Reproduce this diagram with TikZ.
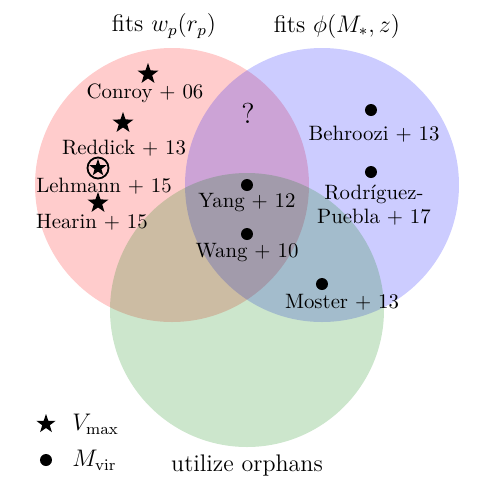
\documentclass[tikz,border=0pt]{standalone}
\usepackage{amsmath}
\usetikzlibrary{shapes.geometric}

\begin{document}
\begin{tikzpicture}[
  x=0.5pt, y=-0.5pt,
  venn/.style={fill opacity=0.2},
  vstar/.style={star, star points=5, star point ratio=2.5, fill=black, inner sep=0pt, minimum size=11pt},
  vdot/.style={circle, fill=black, inner sep=0pt, minimum size=6pt},
  lbl/.style={align=center, inner sep=0pt, font=\fontsize{10.4}{12}\selectfont},
  big/.style={font=\large, inner sep=0pt},
]
\useasboundingbox (0,0) rectangle (495,495);
% ---- the three sets ----
\fill[venn, red] (172,185) circle[radius=137];
\fill[venn, blue] (322,185) circle[radius=137];
\fill[venn, green!50!black] (247,310) circle[radius=137];
% ---- set titles ----
\node[big] (twopt) at (164,26) {fits $w_p(r_p)$};
\node[big] (smf) at (337,26) {fits $\phi(M_*, z)$};
\node[big] (orph) at (247,465) {utilize orphans};
% ---- clustering only (Vmax) ----
\node[vstar] (conroy) at (148,74) {};
\node[lbl] (conroyl) at (145,93) {Conroy + 06};
\node[vstar] (reddick) at (123,123) {};
\node[lbl] (reddickl) at (124,148) {Reddick + 13};
\node[circle, draw, line width=0.9pt, inner sep=0pt, minimum size=10.5pt] (lehmann) at (98,168) {};
\node[vstar, minimum size=9pt] (lehmannst) at (lehmann) {};
\node[lbl] (lehmannl) at (104,186) {Lehmann + 15};
\node[vstar] (hearin) at (98,203) {};
\node[lbl] (hearinl) at (92,222) {Hearin + 15};
% ---- nobody here yet ----
\node[font=\Large, inner sep=0pt] (qm) at (248,113) {?};
% ---- stellar mass function only (Mvir) ----
\node[vdot] (behroozi) at (371,110) {};
\node[lbl] (behroozil) at (374,134) {Behroozi + 13};
\node[vdot] (rodriguez) at (371,172) {};
\node[lbl] (rodriguezl) at (374,205) {Rodr\'{\i}guez-\\Puebla + 17};
% ---- orphans ----
\node[vdot] (yang) at (247,185) {};
\node[lbl] (yangl) at (247,203) {Yang + 12};
\node[vdot] (wang) at (247,234) {};
\node[lbl] (wangl) at (247,253) {Wang + 10};
\node[vdot] (moster) at (322,284) {};
\node[lbl] (mosterl) at (342,302) {Moster + 13};
% ---- legend ----
\node[vstar, minimum size=10pt] (legstar) at (46,424) {};
\node[big, anchor=west] (legvmax) at (72,424) {$V_{\max}$};
\node[vdot] (legdot) at (46,460) {};
\node[big, anchor=west] (legmvir) at (72,460) {$M_{\mathrm{vir}}$};
\end{tikzpicture}
\end{document}
